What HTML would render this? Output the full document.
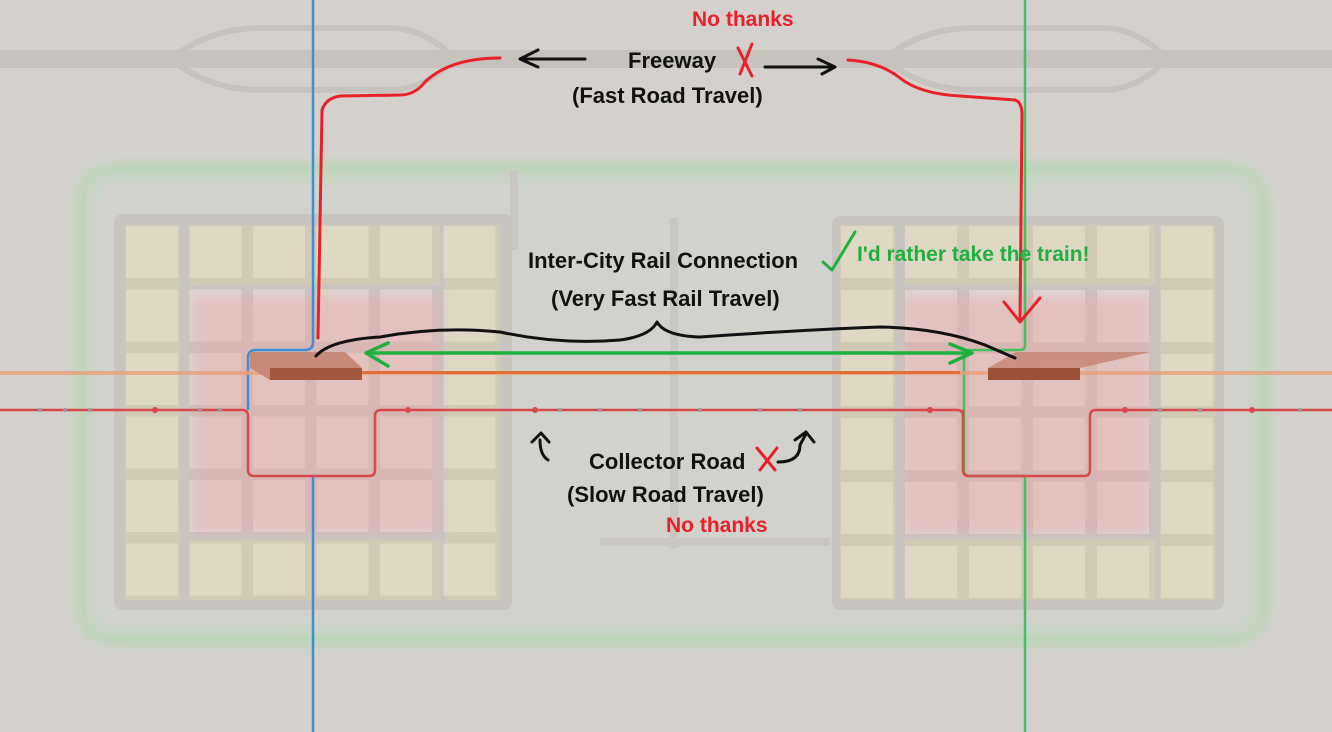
<!DOCTYPE html>
<html><head><meta charset="utf-8"><style>
html,body{margin:0;padding:0;background:#d4d1cd;}
svg{display:block}
text{font-family:"Liberation Sans Narrow","Liberation Sans",sans-serif;font-weight:bold;}
</style></head><body>
<svg width="1332" height="732" viewBox="0 0 1332 732" xmlns="http://www.w3.org/2000/svg">
<defs>
<filter id="blur" x="-10%" y="-10%" width="120%" height="120%"><feGaussianBlur stdDeviation="6"/></filter>
<pattern id="gridL" x="120" y="220" width="63.5" height="63.5" patternUnits="userSpaceOnUse">
<rect width="63.5" height="63.5" fill="#c8c5c1"/><rect x="6" y="6" width="52" height="52" fill="#dbd8d3"/>
</pattern>
<pattern id="gridR" x="835" y="220" width="64" height="64" patternUnits="userSpaceOnUse">
<rect width="64" height="64" fill="#c8c5c1"/><rect x="6" y="6" width="52" height="52" fill="#dbd8d3"/>
</pattern>
</defs>
<rect width="1332" height="732" fill="#d4d1cd"/>
<!-- green halo -->
<rect x="85" y="172" width="1175" height="465" rx="30" fill="none" stroke="#b4d8b0" stroke-width="20" filter="url(#blur)" opacity="0.7"/>
<rect x="85" y="172" width="1175" height="465" rx="30" fill="#d0d4cc" opacity="0.4"/>
<!-- freeway -->
<rect x="0" y="50" width="1332" height="18" fill="#c6c3bf"/>
<path d="M180 52 Q215 28 260 28 H390 Q420 28 448 52 M180 66 Q215 90 260 90 H390 Q420 90 448 66" fill="none" stroke="#c6c3bf" stroke-width="6"/>
<path d="M893 52 Q928 28 973 28 H1103 Q1133 28 1160 52 M893 66 Q928 90 973 90 H1103 Q1133 90 1160 66" fill="none" stroke="#c6c3bf" stroke-width="6"/>
<!-- centre roads -->
<rect x="670" y="218" width="8" height="330" fill="#cac7c3"/>
<rect x="600" y="538" width="230" height="8" fill="#cac7c3"/>
<rect x="510" y="170" width="8" height="80" fill="#cac7c3"/>
<!-- cities -->
<rect x="114" y="214" width="398" height="396" rx="8" fill="#c8c5c1"/>
<rect x="120" y="220" width="386" height="384" fill="url(#gridL)"/>
<rect x="832" y="216" width="392" height="394" rx="8" fill="#c8c5c1"/>
<rect x="838" y="222" width="380" height="382" fill="url(#gridR)"/>
<!-- yellow tints -->
<g fill="#ecdc90" opacity="0.22">
<rect x="125" y="225" width="55" height="375"/><rect x="445" y="225" width="55" height="375"/>
<rect x="840" y="225" width="55" height="375"/><rect x="1160" y="225" width="55" height="375"/>
<rect x="190" y="225" width="250" height="60"/><rect x="190" y="540" width="250" height="60"/>
<rect x="905" y="225" width="250" height="60"/><rect x="905" y="540" width="250" height="60"/>
</g>
<!-- red zones -->
<rect x="192" y="295" width="248" height="238" fill="#f0a0a0" opacity="0.4" filter="url(#blur)"/>
<rect x="905" y="295" width="245" height="238" fill="#f0a0a0" opacity="0.4" filter="url(#blur)"/>
<!-- blue line -->
<path d="M313 0 V342 Q313 350 305 350 H256 Q248 350 248 358 V410" fill="none" stroke="#3d8fd6" stroke-width="2.5"/>
<path d="M313 476 V732" fill="none" stroke="#3d8fd6" stroke-width="2.5"/>
<!-- green line -->
<path d="M1025 0 V345 Q1025 350 1020 350 H970 Q964 350 964 356 V470 Q964 476 970 476 H1025 V732" fill="none" stroke="#44c060" stroke-width="2.5"/>
<!-- rail -->
<rect x="0" y="371" width="1332" height="4" fill="#e8a078" opacity="0.8"/>
<rect x="360" y="371" width="600" height="3" fill="#e07038"/>
<!-- stations -->
<polygon points="250,352 345,352 362,368 362,380 270,380 250,368" fill="#c88a78"/>
<rect x="270" y="368" width="92" height="12" fill="#a4593e"/>
<polygon points="988,368 1016,352 1150,352 1080,368 1080,380 988,380" fill="#c88a78" opacity="0.9"/>
<rect x="988" y="368" width="92" height="12" fill="#9b5038"/>
<!-- collector road -->
<path d="M0 410 H242 Q248 410 248 416 V470 Q248 476 254 476 H369 Q375 476 375 470 V416 Q375 410 381 410 H957 Q963 410 963 416" fill="none" stroke="#d8484c" stroke-width="2.5"/>
<path d="M963 410 V470 Q963 476 969 476 H1084 Q1090 476 1090 470 V416 Q1090 410 1096 410 H1332" fill="none" stroke="#d8484c" stroke-width="2.5"/>
<g fill="#999">
<circle cx="40" cy="410" r="2"/><circle cx="65" cy="410" r="2"/><circle cx="90" cy="410" r="2"/><circle cx="200" cy="410" r="2"/><circle cx="220" cy="410" r="2"/>
<circle cx="560" cy="410" r="2"/><circle cx="600" cy="410" r="2"/><circle cx="640" cy="410" r="2"/><circle cx="700" cy="410" r="2"/><circle cx="760" cy="410" r="2"/><circle cx="800" cy="410" r="2"/>
<circle cx="1160" cy="410" r="2"/><circle cx="1200" cy="410" r="2"/><circle cx="1300" cy="410" r="2"/>
</g>
<g fill="#d8484c"><circle cx="155" cy="410" r="3"/><circle cx="408" cy="410" r="3"/><circle cx="535" cy="410" r="3"/><circle cx="930" cy="410" r="3"/><circle cx="1125" cy="410" r="3"/><circle cx="1252" cy="410" r="3"/></g>
<!-- annotations: red freeway route -->
<g fill="none" stroke="#e8202a" stroke-width="3" stroke-linecap="round" stroke-linejoin="round">
<path d="M318 338 L322 110 Q326 98 340 96 L400 95 Q415 95 425 82 Q450 58 500 58"/>
<path d="M848 60 Q880 62 900 78 Q920 94 960 96 L1015 100 Q1022 102 1022 115 L1020 320"/>
<path d="M1004 302 L1020 322 L1040 298"/>
</g>
<!-- black arrows -->
<g fill="none" stroke="#111" stroke-width="3" stroke-linecap="round" stroke-linejoin="round">
<path d="M585 59 H522 M538 50 L520 59 L538 67"/>
<path d="M765 67 H830 M818 59 L835 67 L822 74"/>
<path d="M316 356 Q330 340 380 337 Q440 326 500 332 Q560 345 620 340 Q650 336 657 322 Q665 336 700 337 Q800 330 880 327 Q940 328 985 345 L1015 358"/>
<path d="M548 460 Q540 455 540 440 M532 442 L541 433 L549 442"/>
<path d="M778 462 Q800 462 800 445 L806 434 M795 440 L806 432 L814 442"/>
</g>
<!-- green arrow -->
<g fill="none" stroke="#20b040" stroke-width="3.5" stroke-linecap="round" stroke-linejoin="round">
<path d="M368 353 H970"/><path d="M388 343 L366 353 L388 366"/><path d="M950 344 L972 353 L950 363"/>
<path d="M823 262 L832 270 L855 232" stroke-width="3"/>
</g>
<!-- red X marks -->
<g stroke="#e8202a" stroke-width="3" stroke-linecap="round" fill="none">
<path d="M738 48 L752 76 M752 44 L740 74"/>
<path d="M757 448 L775 470 M777 448 L760 470"/>
</g>
<!-- text -->
<text x="692" y="26" font-size="21" fill="#e8202a">No thanks</text>
<text x="628" y="68" font-size="22" fill="#111">Freeway</text>
<text x="572" y="103" font-size="22" fill="#111">(Fast Road Travel)</text>
<text x="528" y="268" font-size="22" fill="#111">Inter-City Rail Connection</text>
<text x="551" y="306" font-size="22" fill="#111">(Very Fast Rail Travel)</text>
<text x="857" y="261" font-size="21" fill="#20b040">I'd rather take the train!</text>
<text x="589" y="469" font-size="22" fill="#111">Collector Road</text>
<text x="567" y="502" font-size="22" fill="#111">(Slow Road Travel)</text>
<text x="666" y="532" font-size="21" fill="#e8202a">No thanks</text>
</svg>
</body></html>
